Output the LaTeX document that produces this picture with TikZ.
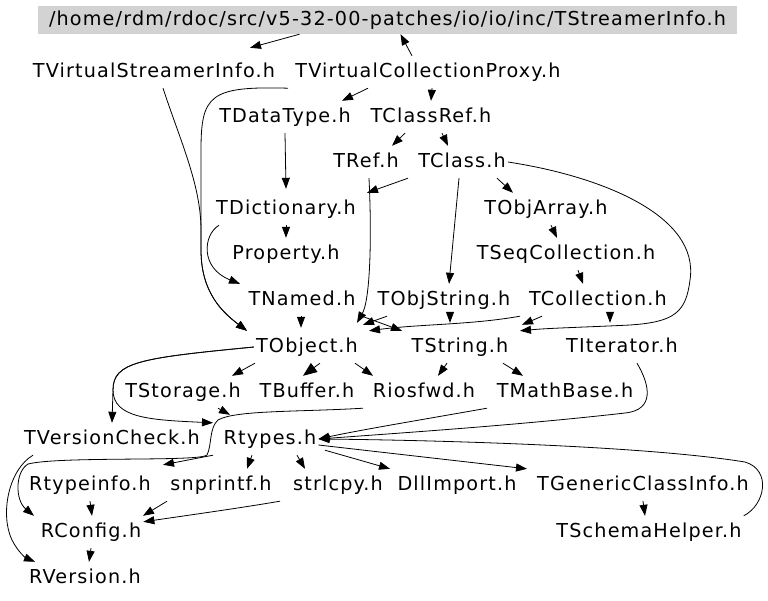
\documentclass[tikz,border=0pt]{standalone}
\usepackage{fontspec}
\setmainfont{DejaVu Sans}[LetterSpace=6]
\usepackage{tikz}
\usetikzlibrary{arrows.meta}
\definecolor{boxgray}{RGB}{211,211,211}

\begin{document}
\begin{tikzpicture}[x=1pt, y=-1pt,
    every node/.style={font=\fontsize{19.2pt}{23pt}\selectfont},
    hdr/.style={inner xsep=2pt, inner ysep=7pt, text height=14pt, text depth=4pt},
    dep/.style={-{Triangle[length=11pt, width=8pt]}, line width=0.8pt},
    fatdep/.style={-{Triangle[length=14pt, width=11pt]}, line width=0.8pt}]
    \useasboundingbox (0,0) rectangle (768,600);

    % vertices
    \node[fill=boxgray, minimum width=699pt, minimum height=28pt, inner sep=0pt, text height=14pt, text depth=4pt] (top) at (387.5,20) {/home/rdm/rdoc/src/v5-32-00-patches/io/io/inc/TStreamerInfo.h};
    \node[hdr] (vsi) at (154,72) {TVirtualStreamerInfo.h};
    \node[hdr] (vcp) at (428,72) {TVirtualCollectionProxy.h};
    \node[hdr] (dt) at (285,117) {TDataType.h};
    \node[hdr] (cref) at (431,117) {TClassRef.h};
    \node[hdr] (ref) at (366,162) {TRef.h};
    \node[hdr] (cls) at (462,162) {TClass.h};
    \node[hdr] (dict) at (286,209) {TDictionary.h};
    \node[hdr] (oarr) at (546,209) {TObjArray.h};
    \node[hdr] (prop) at (286,254) {Property.h};
    \node[hdr] (seq) at (566,254) {TSeqCollection.h};
    \node[hdr] (named) at (302,300) {TNamed.h};
    \node[hdr] (ostr) at (444,300) {TObjString.h};
    \node[hdr] (coll) at (598,300) {TCollection.h};
    \node[hdr] (obj) at (307,347) {TObject.h};
    \node[hdr] (str) at (460,347) {TString.h};
    \node[hdr] (iter) at (622,347) {TIterator.h};
    \node[hdr] (stor) at (183,392) {TStorage.h};
    \node[hdr] (buf) at (307,392) {TBuffer.h};
    \node[hdr] (rios) at (424,392) {Riosfwd.h};
    \node[hdr] (mb) at (565,392) {TMathBase.h};
    \node[hdr] (vchk) at (112,439) {TVersionCheck.h};
    \node[hdr] (rty) at (270,439) {Rtypes.h};
    \node[hdr] (rtinfo) at (90,485) {Rtypeinfo.h};
    \node[hdr] (snp) at (221,485) {snprintf.h};
    \node[hdr] (strl) at (338,485) {strlcpy.h};
    \node[hdr] (dll) at (457,485) {DllImport.h};
    \node[hdr] (gci) at (643,485) {TGenericClassInfo.h};
    \node[hdr] (rcfg) at (91,532) {RConfig.h};
    \node[hdr] (sch) at (649,532) {TSchemaHelper.h};
    \node[hdr] (rver) at (85,578) {RVersion.h};

    % edges
    \draw[dep] ([xshift=-88]top.south) -- ([xshift=96,yshift=8]vsi.north);
    \draw[dep] ([xshift=-16]vcp.north) -- ([xshift=13]top.south);
    \draw[dep] ([xshift=9]vsi.south) .. controls (180,140) and (201,185) .. (201,230) -- (201,250) .. controls (201,292) and (222,312) .. ([xshift=-60]obj.north);
    \draw[dep] ([xshift=-140]vcp.south) .. controls (210,86) and (201,95) .. (201,150) -- (201,250) .. controls (201,292) and (222,312) .. ([xshift=-60]obj.north);
    \draw[dep] ([xshift=-60]vcp.south) -- ([xshift=57]dt.north);
    \draw[dep] ([xshift=4]vcp.south) -- (cref.north);
    \draw[dep] (dt.south) -- ([yshift=4]dict.north);
    \draw[dep] ([xshift=-26]cref.south) -- ([xshift=26]ref.north);
    \draw[dep] ([xshift=11]cref.south) -- ([xshift=-14]cls.north);
    \draw[dep] ([xshift=-54]cls.south) -- ([xshift=81]dict.north);
    \draw[dep] ([xshift=3]ref.south) .. controls (372,240) and (370,300) .. ([xshift=50,yshift=8]obj.north);
    \draw[dep] ([xshift=-3]cls.south) -- ([xshift=5]ostr.north);
    \draw[dep] ([xshift=35]cls.south) -- ([xshift=-33]oarr.north);
    \draw[dep] (cls.east) .. controls (600,176) and (700,215) .. (690,280) .. controls (686,312) and (675,322) .. (630,325) .. controls (590,327) and (550,328) .. ([xshift=60]str.north);
    \draw[dep] (dict.south) -- (prop.north);
    \draw[dep] ([xshift=-67]dict.south) .. controls (203,235) and (200,268) .. ([xshift=-62]named.north);
    \draw[dep] ([xshift=5]oarr.south) -- ([xshift=-9]seq.north);
    \draw[dep] ([xshift=12]seq.south) -- ([xshift=-15]coll.north);
    \draw[dep] ([xshift=-1]named.south) -- ([xshift=-6,yshift=3]obj.north);
    \draw[dep] ([xshift=60]named.south) -- ([xshift=-58]str.north);
    \draw[dep] ([xshift=-57]ostr.south) -- ([xshift=56,yshift=6]obj.north);
    \draw[dep] ([xshift=6]ostr.south) -- ([xshift=-10,yshift=8]str.north);
    \draw[dep] ([xshift=-78]coll.south) .. controls (470,325) and (420,324) .. ([xshift=62]obj.north);
    \draw[dep] ([xshift=-56]coll.south) -- ([xshift=62,yshift=6]str.north);
    \draw[dep] ([xshift=12]coll.south) -- ([xshift=-12,yshift=8]iter.north);
    \draw[dep] ([xshift=-52]obj.south) -- ([xshift=49]stor.north);
    \draw[fatdep] ([xshift=13]obj.south) -- ([xshift=-4]buf.north);
    \draw[dep] ([xshift=48]obj.south) -- ([xshift=-51]rios.north);
    \draw[dep] (obj.west) .. controls (140,358) and (113,362) .. (113,390) -- (vchk.north);
    \draw[dep] (obj.west) .. controls (140,358) and (113,362) .. (113,390) .. controls (113,418) and (150,420) .. ([xshift=-57]rty.north);
    \draw[dep] ([xshift=35]stor.south) -- ([xshift=-40,yshift=8]rty.north);
    \draw[dep] ([xshift=-13]str.south) -- ([xshift=14]rios.north);
    \draw[dep] ([xshift=43]str.south) -- ([xshift=-42]mb.north);
    \draw[dep] ([xshift=-61]rios.south) .. controls (300,412) and (235,410) .. (218,420) .. controls (209,428) and (212,445) .. (207,455) .. controls (200,462) and (60,456) .. (28,464) .. controls (15,472) and (15,500) .. ([xshift=-57]rcfg.north);
    \draw[dep] ([xshift=-78]mb.south) .. controls (420,420) and (360,430) .. (rty.east);
    \draw[dep] ([xshift=15]iter.south) .. controls (650,385) and (655,410) .. (625,413) .. controls (520,425) and (400,433) .. (rty.east);
    \draw[dep] ([xshift=-57]rty.south) -- ([xshift=73,yshift=4]rtinfo.north);
    \draw[dep] ([xshift=-18]rty.south) -- ([xshift=26]snp.north);
    \draw[dep] ([xshift=27]rty.south) -- ([xshift=-33]strl.north);
    \draw[dep] ([xshift=55,yshift=5]rty.south) -- ([xshift=-67]dll.north);
    \draw[dep] ([yshift=-6]rty.east) -- ([xshift=-116]gci.north);
    \draw[dep] ([xshift=-79]vchk.south) .. controls (8,470) and (0,515) .. (12,540) .. controls (18,552) and (26,558) .. ([xshift=-50]rver.north);
    \draw[dep] (rtinfo.south) -- ([xshift=1]rcfg.north);
    \draw[dep] ([xshift=-54]snp.south) -- ([xshift=52]rcfg.north);
    \draw[dep] ([xshift=-58]strl.south) .. controls (240,508) and (190,515) .. ([yshift=-6]rcfg.north east);
    \draw[dep] (rcfg.south) -- ([xshift=4]rver.north);
    \draw[dep] (gci.south) -- ([xshift=-4]sch.north);
    \draw[dep] (sch.north east) .. controls (765,505) and (772,470) .. (745,462) .. controls (640,445) and (420,440) .. (rty.east);
\end{tikzpicture}
\end{document}
